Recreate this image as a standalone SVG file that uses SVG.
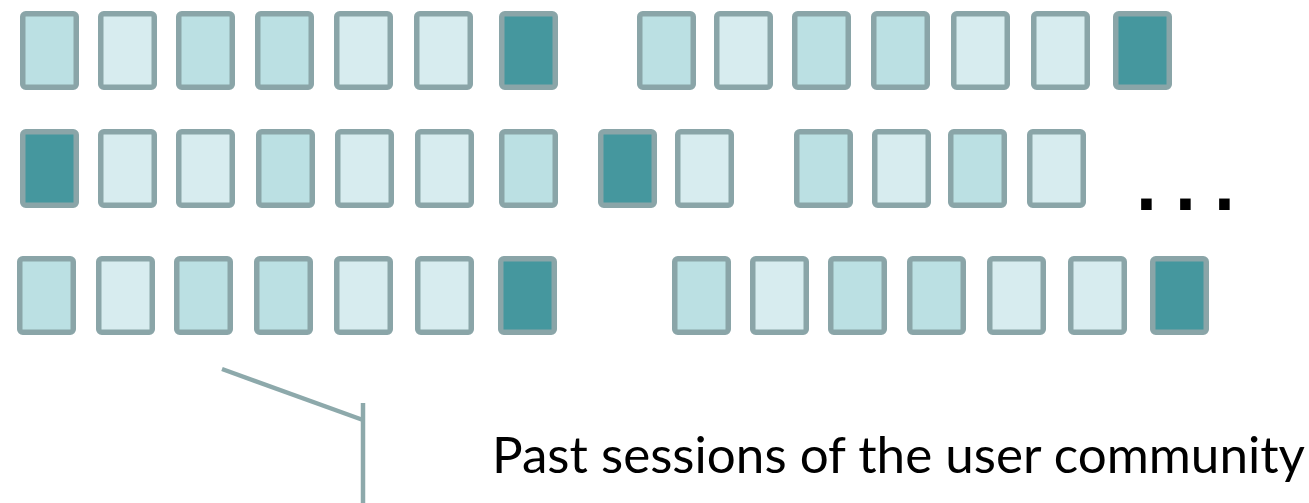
<svg xmlns="http://www.w3.org/2000/svg" width="1309" height="503" viewBox="0 0 1309 503">
<style>
.b{stroke:#8AA5A8;stroke-width:5.5}
.m{fill:#BBE0E3}
.l{fill:#D7ECEF}
.d{fill:#45979E}
.c{stroke:#8DA9AB;stroke-width:4.5;fill:none}
.t{font-family:Lato,"Open Sans",sans-serif;font-size:50px;fill:#000}
.dots{font-family:"DejaVu Sans",sans-serif;font-weight:bold;font-size:60px;fill:#000}
</style>
<defs>
<rect id="bx" x="2.75" y="2.75" width="53.5" height="73.5" rx="3"/>
</defs>
<rect width="1309" height="503" fill="#fff"/>
<g id="row1">
<g id="r1b1"><use href="#bx" x="20" y="11" class="b m"/></g>
<g id="r1b2"><use href="#bx" x="98" y="11" class="b l"/></g>
<g id="r1b3"><use href="#bx" x="176" y="11" class="b m"/></g>
<g id="r1b4"><use href="#bx" x="255" y="11" class="b m"/></g>
<g id="r1b5"><use href="#bx" x="334" y="11" class="b l"/></g>
<g id="r1b6"><use href="#bx" x="414" y="11" class="b l"/></g>
<g id="r1b7"><use href="#bx" x="499" y="11" class="b d"/></g>
<g id="r1b8"><use href="#bx" x="637" y="11" class="b m"/></g>
<g id="r1b9"><use href="#bx" x="714" y="11" class="b l"/></g>
<g id="r1b10"><use href="#bx" x="792" y="11" class="b m"/></g>
<g id="r1b11"><use href="#bx" x="871" y="11" class="b m"/></g>
<g id="r1b12"><use href="#bx" x="951" y="11" class="b l"/></g>
<g id="r1b13"><use href="#bx" x="1031" y="11" class="b l"/></g>
<g id="r1b14"><use href="#bx" x="1113" y="11" class="b d"/></g>
</g>
<g id="row2">
<g id="r2b1"><use href="#bx" x="20" y="129" class="b d"/></g>
<g id="r2b2"><use href="#bx" x="98" y="129" class="b l"/></g>
<g id="r2b3"><use href="#bx" x="176" y="129" class="b l"/></g>
<g id="r2b4"><use href="#bx" x="256" y="129" class="b m"/></g>
<g id="r2b5"><use href="#bx" x="335" y="129" class="b l"/></g>
<g id="r2b6"><use href="#bx" x="415" y="129" class="b l"/></g>
<g id="r2b7"><use href="#bx" x="499" y="129" class="b m"/></g>
<g id="r2b8"><use href="#bx" x="598" y="129" class="b d"/></g>
<g id="r2b9"><use href="#bx" x="675" y="129" class="b l"/></g>
<g id="r2b10"><use href="#bx" x="794" y="129" class="b m"/></g>
<g id="r2b11"><use href="#bx" x="872" y="129" class="b l"/></g>
<g id="r2b12"><use href="#bx" x="948" y="129" class="b m"/></g>
<g id="r2b13"><use href="#bx" x="1027" y="129" class="b l"/></g>
</g>
<g id="row3">
<g id="r3b1"><use href="#bx" x="17" y="256" class="b m"/></g>
<g id="r3b2"><use href="#bx" x="96" y="256" class="b l"/></g>
<g id="r3b3"><use href="#bx" x="174" y="256" class="b m"/></g>
<g id="r3b4"><use href="#bx" x="254" y="256" class="b m"/></g>
<g id="r3b5"><use href="#bx" x="334" y="256" class="b l"/></g>
<g id="r3b6"><use href="#bx" x="415" y="256" class="b l"/></g>
<g id="r3b7"><use href="#bx" x="498" y="256" class="b d"/></g>
<g id="r3b8"><use href="#bx" x="672" y="256" class="b m"/></g>
<g id="r3b9"><use href="#bx" x="750" y="256" class="b l"/></g>
<g id="r3b10"><use href="#bx" x="828" y="256" class="b m"/></g>
<g id="r3b11"><use href="#bx" x="907" y="256" class="b m"/></g>
<g id="r3b12"><use href="#bx" x="987" y="256" class="b l"/></g>
<g id="r3b13"><use href="#bx" x="1068" y="256" class="b l"/></g>
<g id="r3b14"><use href="#bx" x="1150" y="256" class="b d"/></g>
</g>
<g id="ellipsis"><text class="dots" x="1135 1174 1213" y="210">...</text></g>
<g id="connectors">
<line class="c" x1="222" y1="369" x2="363" y2="420"/>
<line class="c" x1="363" y1="403" x2="363" y2="503"/>
</g>
<g id="label"><text class="t" x="492" y="473" textLength="813" lengthAdjust="spacingAndGlyphs">Past sessions of the user community</text></g>
</svg>
